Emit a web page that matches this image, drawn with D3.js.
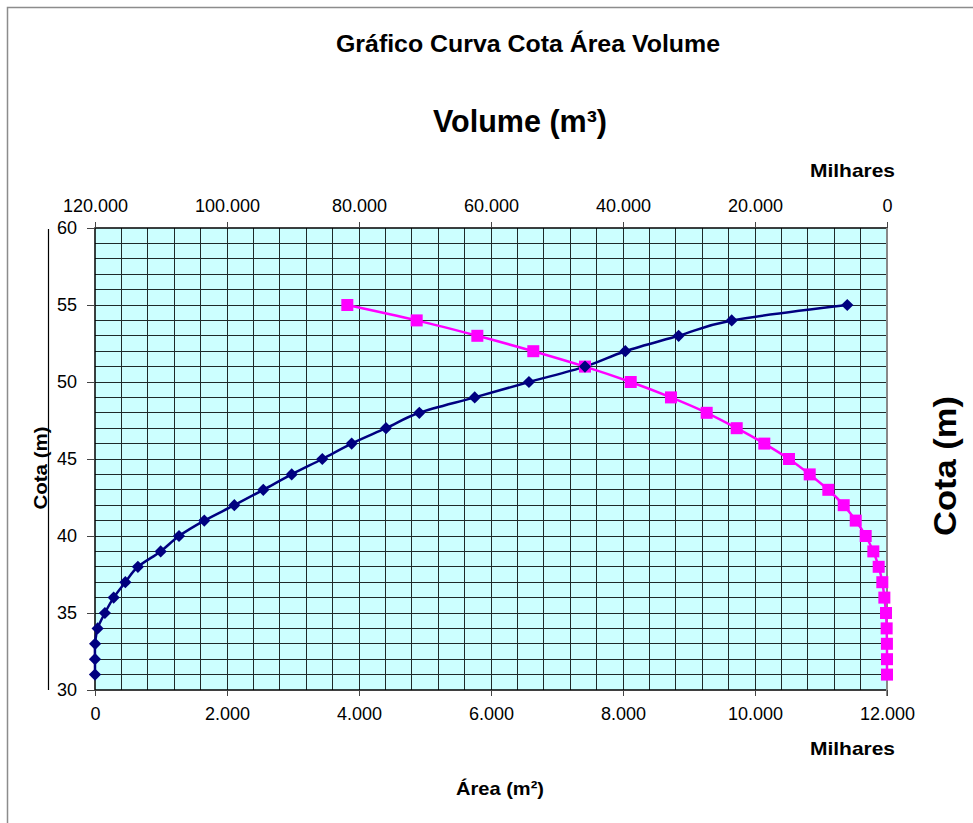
<!DOCTYPE html>
<html><head><meta charset="utf-8">
<script src="https://cdn.jsdelivr.net/npm/d3@7"></script>
<style>
html,body{margin:0;padding:0;background:#fff;}
svg{display:block;font-family:"Liberation Sans",Arial,sans-serif;}
</style></head>
<body>
<svg id="chart" width="973" height="823"></svg>
<script>
// Data (values in thousands, "Milhares")
const cota = [31,32,33,34,35,36,37,38,39,40,41,42,43,44,45,46,47,48,49,50,51,52,53,54,55];
const area = [0,0,2,40,150,283,460,650,995,1273,1656,2111,2550,2980,3444,3889,4409,4914,5753,6575,7424,8035,8843,9647,11398];
const volume = [0,0,10,50,150,400,710,1260,2070,3230,4740,6560,8890,11710,14850,18590,22770,27320,32730,38830,45760,53590,62070,71260,81770];
const areaTicks = [0,2000,4000,6000,8000,10000,12000];
const volumeTicks = [0,20000,40000,60000,80000,100000,120000];
const cotaTicks = [30,35,40,45,50,55,60];
const title = "Gráfico Curva Cota Área Volume";

const svg = d3.select("#chart");
const L = 95, R = 887, T = 228, B = 690;
const fmt = d3.formatLocale({decimal:",", thousands:".", grouping:[3], currency:["",""]}).format(",d");

const x = d3.scaleLinear().domain([0,12000]).range([L,R]);
const xv = d3.scaleLinear().domain([120000,0]).range([L,R]);
const y = d3.scaleLinear().domain([30,60]).range([B,T]);

// outer frame
svg.append("rect").attr("x",7.5).attr("y",7.5).attr("width",980).attr("height",830)
  .attr("fill","none").attr("stroke","#8c8c8c").attr("stroke-width",1.5);

// plot background
svg.append("rect").attr("x",L).attr("y",T).attr("width",R-L).attr("height",B-T).attr("fill","#CCFFFF");

// grid
const g = svg.append("g").attr("stroke","#1e2a2a").attr("stroke-width",1).attr("shape-rendering","crispEdges");
g.selectAll("line.v").data(d3.range(400,12000,400)).join("line")
  .attr("x1",d=>x(d)).attr("x2",d=>x(d)).attr("y1",T).attr("y2",B);
g.selectAll("line.h").data(d3.range(31,60,1)).join("line")
  .attr("x1",L).attr("x2",R).attr("y1",d=>y(d)).attr("y2",d=>y(d));

// plot border
svg.append("rect").attr("x",L).attr("y",T).attr("width",R-L).attr("height",B-T)
  .attr("fill","none").attr("stroke","#000").attr("stroke-width",1.5);
svg.append("line").attr("x1",R).attr("x2",R).attr("y1",T).attr("y2",B+6).attr("stroke","#888").attr("stroke-width",2);

// axes
const axB = d3.axisBottom(x).tickValues(areaTicks).tickFormat(fmt).tickSize(6).tickPadding(11);
const axT = d3.axisTop(xv).tickValues(volumeTicks).tickFormat(fmt).tickSize(6).tickPadding(10);
const axL = d3.axisLeft(y).tickValues(cotaTicks).tickFormat(d=>d).tickSize(8).tickPadding(10);
function style(sel){
  sel.select(".domain").remove();
  sel.selectAll(".tick line").attr("stroke","#444").attr("stroke-width",1);
  sel.selectAll(".tick text").attr("fill","#000").style("font-size","18px").style("font-family","'Liberation Sans',Arial,sans-serif");
}
svg.append("g").attr("transform",`translate(0,${B})`).call(axB).call(style);
svg.append("g").attr("transform",`translate(0,${T})`).call(axT).call(style);
svg.append("g").attr("transform",`translate(${L},0)`).call(axL).call(style);

// black vertical line at left
svg.append("line").attr("x1",48.5).attr("x2",48.5).attr("y1",229).attr("y2",B).attr("stroke","#000").attr("stroke-width",1.2);

// series
const ptsA = cota.map((c,i)=>[x(area[i]),y(c)]);
const ptsV = cota.map((c,i)=>[xv(volume[i]),y(c)]);
const line = d3.line().curve(d3.curveCatmullRom.alpha(0));
svg.append("path").attr("d",line(ptsV)).attr("fill","none").attr("stroke","#FF00FF").attr("stroke-width",2.5);
svg.append("path").attr("d",line(ptsA)).attr("fill","none").attr("stroke","#000080").attr("stroke-width",2.5);
svg.append("g").selectAll("rect").data(ptsV).join("rect")
  .attr("x",d=>d[0]-6).attr("y",d=>d[1]-6).attr("width",12).attr("height",12).attr("fill","#FF00FF");
const diamond = d3.symbol().type(d3.symbolDiamond2).size(95);
svg.append("g").selectAll("path").data(ptsA).join("path")
  .attr("transform",d=>`translate(${d[0]},${d[1]})`).attr("d",diamond).attr("fill","#000080");

// texts
function txt(t,xx,yy,size,opts={}){
  const e = svg.append("text").attr("x",xx).attr("y",yy).text(t)
    .style("font-size",size+"px").style("font-weight",opts.bold?"bold":"normal")
    .attr("text-anchor",opts.anchor||"middle").attr("fill","#000");
  if(opts.len) e.attr("textLength",opts.len).attr("lengthAdjust","spacingAndGlyphs");
  if(opts.rot) e.attr("transform",`rotate(-90,${xx},${yy})`);
  return e;
}
txt(title,528,52,24,{bold:true,len:384});
txt("Volume (m³)",520,132,31,{bold:true,len:174});
txt("Milhares",895,177,19,{bold:true,anchor:"end",len:85});
txt("Milhares",895,755,19,{bold:true,anchor:"end",len:85});
txt("Área (m²)",500,795,19,{bold:true,len:88});
txt("Cota (m)",47,468,19,{bold:true,rot:true,len:83});
txt("Cota (m)",956,466,31,{bold:true,rot:true,len:140});
</script>
</body></html>
